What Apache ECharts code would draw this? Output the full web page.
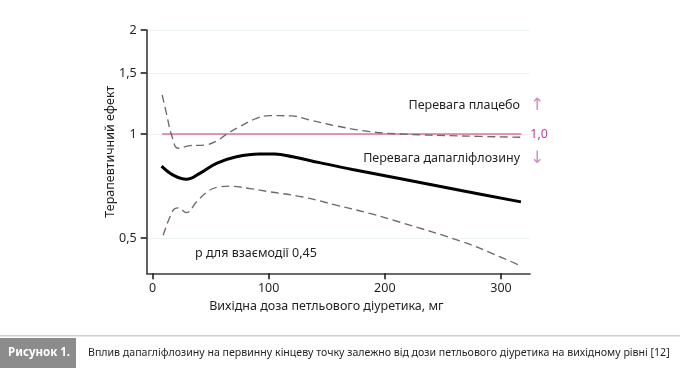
<!DOCTYPE html>
<html>
<head>
<meta charset="utf-8">
<script src="https://cdn.jsdelivr.net/npm/echarts@6/dist/echarts.min.js"></script>
<style>
html,body{margin:0;padding:0;background:#fff;}
#c{width:680px;height:368px;}
</style>
</head>
<body>
<div id="c"></div>
<script>
// ---- data ----
const xTicks = [0, 100, 200, 300];
const yTicks = [0.5, 1, 1.5, 2];

const midX = [7.8, 17.8, 29.3, 40.7, 55.1, 72.3, 92.3, 105.2, 120.7, 143.9, 172.2, 212.6, 265.7, 317.2];
const midY = [0.807, 0.760, 0.739, 0.769, 0.822, 0.859, 0.875, 0.875, 0.859, 0.826, 0.789, 0.743, 0.686, 0.636];

const upX = [8.3, 12.3, 16.4, 22.1, 32.1, 45.0, 55.1, 63.7, 75.1, 89.5, 100.9, 119.6, 135.3, 158.2, 186.9, 212.6, 265.7, 317.2];
const upY = [1.298, 1.135, 0.993, 0.909, 0.925, 0.929, 0.954, 0.998, 1.050, 1.110, 1.130, 1.128, 1.098, 1.055, 1.016, 1.000, 0.987, 0.978];

const loX = [9.2, 17.8, 22.1, 29.3, 37.9, 47.9, 57.9, 66.5, 83.7, 100.9, 129.5, 158.2, 186.9, 212.6, 265.7, 294.3, 315.8];
const loY = [0.509, 0.602, 0.611, 0.592, 0.636, 0.683, 0.703, 0.706, 0.695, 0.680, 0.657, 0.622, 0.589, 0.556, 0.489, 0.448, 0.417];

const refValue = 1;
const refRange = [8.3, 317.5];

const texts = {
  yName: 'Терапевтичний ефект',
  xName: 'Вихідна доза петльового діуретика, мг',
  placebo: 'Перевага плацебо',
  dapa: 'Перевага дапагліфлозину',
  pval: 'p для взаємодії 0,45',
  refLabel: '1,0',
  figTag: 'Рисунок 1.',
  caption: 'Вплив дапагліфлозину на первинну кінцеву точку залежно від дози петльового діуретика на вихідному рівні [12]'
};

const pairs = (xs, ys) => xs.map((x, i) => [x, ys[i]]);
const FONT = '"Noto Sans", "Open Sans", sans-serif';
const fmtNum = v => String(v).replace('.', ',');

const chart = echarts.init(document.getElementById('c'), null, {renderer: 'canvas'});
const dashStyle = {color: '#6a6a6a', width: 1.35, type: [8, 4.5]};

chart.setOption({
  animation: false,
  textStyle: {fontFamily: FONT},
  grid: {left: 146.7, right: 150, top: 30, bottom: 94.7, containLabel: false},
  xAxis: {
    type: 'value', min: -5, max: 325,
    name: texts.xName, nameLocation: 'middle', nameGap: 27,
    nameTextStyle: {fontSize: 12.5, color: '#231f20', fontFamily: FONT, padding: [0, 24, 0, 0]},
    axisLine: {show: true, onZero: false, lineStyle: {color: '#3a3a3a', width: 1.6}},
    axisTick: {show: true, length: 6, customValues: xTicks, lineStyle: {color: '#231f20', width: 1.6}},
    axisLabel: {customValues: xTicks, margin: 9, fontSize: 12.5, color: '#231f20', fontFamily: FONT},
    splitLine: {show: false}
  },
  yAxis: {
    type: 'log', logBase: 2, min: 0.395, max: 2,
    name: texts.yName, nameLocation: 'middle', nameGap: 18, nameRotate: 90,
    nameMoveOverlap: false,
    nameTextStyle: {fontSize: 12.5, color: '#231f20', fontFamily: FONT, padding: [0, 0, 12, 0]},
    axisLine: {show: true, onZero: false, lineStyle: {color: '#3a3a3a', width: 1.6}},
    axisTick: {show: true, length: 6, customValues: yTicks, lineStyle: {color: '#231f20', width: 1.6}},
    axisLabel: {customValues: yTicks, margin: 10, fontSize: 12.5, color: '#231f20', fontFamily: FONT,
      formatter: v => fmtNum(+(+v).toFixed(2))},
    splitLine: {show: true, lineStyle: {color: '#edf3f5', width: 1.2}}
  },
  series: [
    {
      type: 'line', data: pairs(upX, upY), smooth: 0.4, symbol: 'none',
      lineStyle: dashStyle, z: 3
    },
    {
      type: 'line', data: pairs(loX, loY), smooth: 0.4, symbol: 'none',
      lineStyle: dashStyle, z: 3
    },
    {
      type: 'line', data: pairs(midX, midY), smooth: 0.4, symbol: 'none',
      lineStyle: {color: '#000', width: 3}, z: 4,
      markLine: {
        silent: true, symbol: 'none', z: 2,
        lineStyle: {color: '#e0708c', width: 1.5, type: 'solid'},
        label: {show: true, position: 'end', distance: 9, formatter: texts.refLabel,
          color: '#b8449a', fontSize: 12.5, fontFamily: FONT},
        data: [[{coord: [refRange[0], refValue]}, {coord: [refRange[1], refValue]}]]
      }
    }
  ],
  graphic: [
    {type: 'text', right: 160, top: 99, style: {text: texts.placebo, font: '12.5px ' + FONT, fill: '#231f20'}},
    {type: 'text', right: 160, top: 152, style: {text: texts.dapa, font: '12.5px ' + FONT, fill: '#231f20'}},
    {type: 'text', left: 530, top: 97, style: {text: '↑', font: '17px "DejaVu Sans", sans-serif', fill: '#d48ac8'}},
    {type: 'text', left: 530, top: 150, style: {text: '↓', font: '17px "DejaVu Sans", sans-serif', fill: '#d48ac8'}},
    {type: 'text', left: 195, top: 247, style: {text: texts.pval, font: '12.5px ' + FONT, fill: '#231f20'}},
    {type: 'rect', left: 0, top: 335, shape: {width: 680, height: 1.5}, style: {fill: '#cfcfcf'}},
    {type: 'rect', left: 0, top: 338, shape: {width: 76, height: 30}, style: {fill: '#8c8c8c'}},
    {type: 'text', left: 8, top: 347, style: {text: texts.figTag, font: 'bold 11.5px ' + FONT, fill: '#ffffff'}},
    {type: 'text', left: 88, top: 347, style: {text: texts.caption, font: '10.6px ' + FONT, fill: '#231f20'}}
  ]
});
</script>
</body>
</html>
